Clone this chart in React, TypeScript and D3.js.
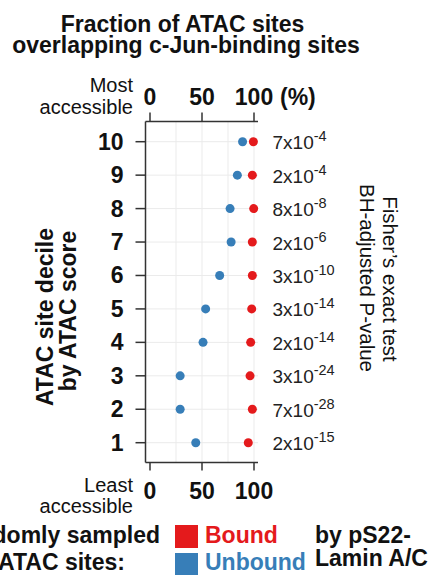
import React from "react";
import * as d3 from "d3";

// deciles, top (most accessible) to bottom
const deciles = [10, 9, 8, 7, 6, 5, 4, 3, 2, 1];
// % of ATAC sites overlapping c-Jun sites
const boundPct = [99.4, 98.4, 99.7, 98.4, 98.4, 97.8, 96.8, 96.2, 98.4, 94.5];
const unboundPct = [89, 84, 77, 78, 67, 53.5, 51, 29, 29, 44];
// BH-adjusted Fisher P-values: mantissa x 10^exponent
const pMantissa = [7, 2, 8, 2, 3, 3, 2, 3, 7, 2];
const pExponent = [-4, -4, -8, -6, -10, -14, -14, -24, -28, -15];

const xTicks = [0, 50, 100];
const gridTicks = [25, 50, 75, 100];

const RED = "#e41a1c";
const BLUE = "#377eb8";
const FONT = "'Liberation Sans', Arial, sans-serif";

export default function App() {
  const width = 432;
  const height = 575;

  // panel box
  const panel = { left: 145.5, right: 258, top: 121.5, bottom: 462.5 };

  const x = d3.scaleLinear().domain([0, 100]).range([150, 254]);
  const y = d3
    .scalePoint<number>()
    .domain(deciles)
    .range([141.7, 442.7]);

  return (
    <svg
      width={width}
      height={height}
      style={{ position: "absolute", left: 0, top: 0, background: "#fff" }}
      fontFamily={FONT}
    >
      {/* Title */}
      <g fontWeight="bold" fontSize={23} textAnchor="middle" fill="#111">
        <text x={182.5} y={31.5}>Fraction of ATAC sites</text>
        <text x={186} y={53}>overlapping c-Jun-binding sites</text>
      </g>

      {/* grid */}
      <g stroke="#ebebeb" strokeWidth={1}>
        {gridTicks.map((t) => (
          <line key={"gx" + t} x1={x(t)} x2={x(t)} y1={panel.top} y2={panel.bottom} />
        ))}
        {deciles.map((d) => (
          <line key={"gy" + d} x1={panel.left} x2={panel.right} y1={y(d)} y2={y(d)} />
        ))}
      </g>

      {/* axes lines */}
      <g stroke="#333" strokeWidth={1.5} fill="none">
        <line x1={panel.left} x2={panel.left} y1={panel.top} y2={panel.bottom} />
        <line x1={panel.left} x2={panel.right} y1={panel.top} y2={panel.top} />
        <line x1={panel.left} x2={panel.right} y1={panel.bottom} y2={panel.bottom} />
        {xTicks.map((t) => (
          <g key={"tk" + t}>
            <line x1={x(t)} x2={x(t)} y1={panel.top - 9} y2={panel.top} />
            <line x1={x(t)} x2={x(t)} y1={panel.bottom} y2={panel.bottom + 8} />
          </g>
        ))}
        {deciles.map((d) => (
          <line key={"yt" + d} x1={panel.left - 10} x2={panel.left} y1={y(d)} y2={y(d)} />
        ))}
      </g>

      {/* x tick labels */}
      <g fontWeight="bold" fontSize={23} textAnchor="middle" fill="#111">
        {xTicks.map((t) => (
          <text key={"top" + t} x={x(t)} y={104.5}>
            {t}
          </text>
        ))}
        <text x={280} y={104.5} textAnchor="start">
          (%)
        </text>
        {xTicks.map((t) => (
          <text key={"bot" + t} x={x(t)} y={498.5}>
            {t}
          </text>
        ))}
      </g>

      {/* Most / Least accessible */}
      <g fontSize={20} textAnchor="end" fill="#111">
        <text x={133} y={92}>Most</text>
        <text x={133} y={113.5}>accessible</text>
        <text x={133} y={492}>Least</text>
        <text x={133} y={512.5}>accessible</text>
      </g>

      {/* y tick labels */}
      <g fontWeight="bold" fontSize={23} textAnchor="end" fill="#111">
        {deciles.map((d) => (
          <text key={"yl" + d} x={123.5} y={(y(d) ?? 0) + 8}>
            {d}
          </text>
        ))}
      </g>

      {/* left axis title */}
      <g fontWeight="bold" fontSize={23} textAnchor="middle" fill="#111">
        <text transform="translate(53,317) rotate(-90)">ATAC site decile</text>
        <text transform="translate(76,311) rotate(-90)">by ATAC score</text>
      </g>

      {/* dots */}
      {deciles.map((d, i) => (
        <g key={"pt" + d}>
          <circle cx={x(unboundPct[i])} cy={y(d)} r={4.5} fill={BLUE} />
          <circle cx={x(boundPct[i])} cy={y(d)} r={4.5} fill={RED} />
        </g>
      ))}

      {/* P-values */}
      <g fontSize={19} fill="#222">
        {deciles.map((d, i) => (
          <text key={"pv" + d} x={272.5} y={(y(d) ?? 0) + 7.5}>
            {pMantissa[i]}x10
            <tspan dy={-8} fontSize={14.5}>
              {pExponent[i]}
            </tspan>
          </text>
        ))}
      </g>

      {/* right axis title */}
      <g fontSize={20.5} textAnchor="middle" fill="#111">
        <text transform="translate(383,279) rotate(90)">Fisher’s exact test</text>
        <text transform="translate(360,278) rotate(90)">BH-adjusted P-value</text>
      </g>

      {/* legend */}
      <g fontWeight="bold" fontSize={23} fill="#111">
        <text x={160} y={542.5} textAnchor="end">Randomly sampled</text>
        <text x={125} y={570} textAnchor="end">ATAC sites:</text>
        <rect x={175} y={525} width={23} height={23} fill={RED} />
        <rect x={175} y={553} width={23} height={23} fill={BLUE} />
        <text x={205} y={542.5} fill={RED}>Bound</text>
        <text x={205} y={570} fill={BLUE}>Unbound</text>
        <text x={315} y={542.5}>by pS22-</text>
        <text x={315} y={566}>Lamin A/C</text>
      </g>
    </svg>
  );
}
